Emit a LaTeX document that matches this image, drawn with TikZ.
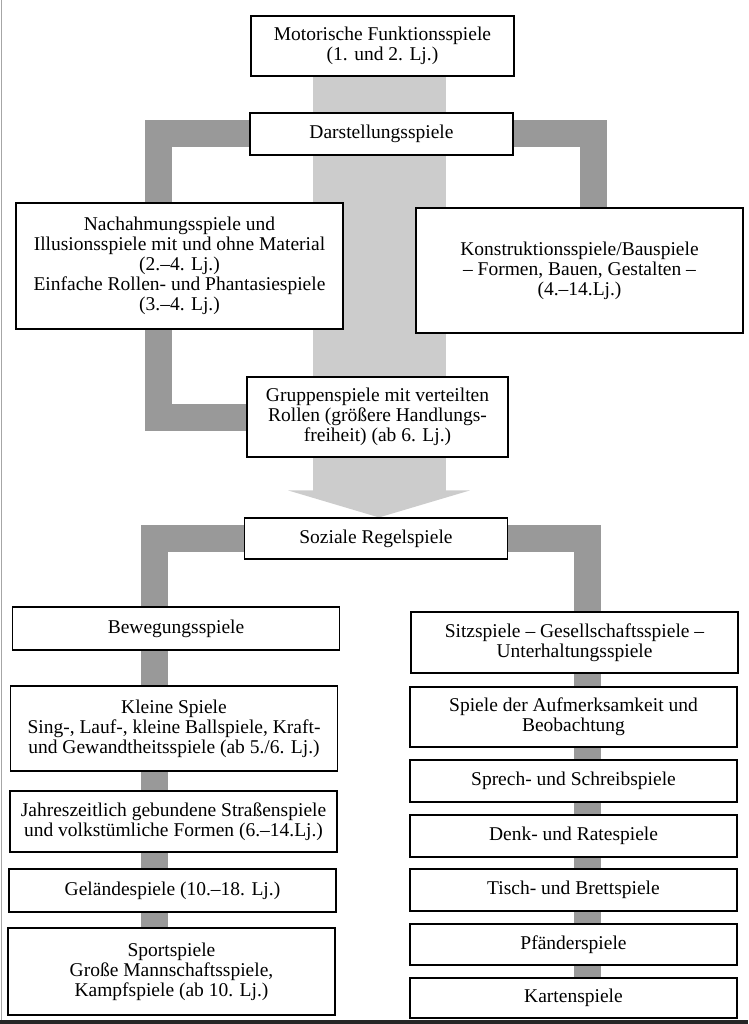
\documentclass[tikz,border=0pt]{standalone}
\usepackage{fontspec}
\setmainfont{Liberation Serif}
\usetikzlibrary{backgrounds,arrows.meta}

\definecolor{lightbar}{gray}{0.80}
\definecolor{darkbar}{gray}{0.60}

\tikzset{
  box/.style={draw, fill=white, line width=1.1pt, align=center, inner sep=0pt,
              font=\fontsize{19.5}{20}\selectfont},
  topbox/.style={box, minimum width=263pt},
  colbox/.style={box, minimum width=327pt},
  bar/.style={draw=darkbar, line width=27pt},
}

\begin{document}
\begin{tikzpicture}[x=1pt, y=-1pt]
  \useasboundingbox (0,0) rectangle (748,1024);

  % columns of the grey bars
  \coordinate (ax)  at (379,0);
  \coordinate (lx1) at (158.5,0);
  \coordinate (rx1) at (593.5,0);
  \coordinate (lx2) at (154,0);
  \coordinate (rx2) at (587,0);

  % upper part
  \node[topbox, minimum height=60pt] (mot) at (382.5,46)
       {Motorische Funktionsspiele\\(1. und 2. Lj.)};
  \node[topbox, minimum height=42pt] (dar) at (381.5,134) {Darstellungsspiele};
  \node[colbox, minimum height=126pt] (nach) at (179.5,266)
       {Nachahmungsspiele und\\Illusionsspiele mit und ohne Material\\(2.--4. Lj.)\\Einfache Rollen- und Phantasiespiele\\(3.--4. Lj.)};
  \node[colbox, minimum height=125pt] (kon) at (579.5,270.5)
       {Konstruktionsspiele/Bauspiele\\-- Formen, Bauen, Gestalten --\\(4.--14.Lj.)};
  \node[box, minimum width=261pt, minimum height=80pt] (grp) at (377.5,417)
       {Gruppenspiele mit verteilten\\Rollen (größere Handlungs-\\freiheit) (ab 6. Lj.)};

  % lower part
  \node[topbox, minimum height=41pt] (soz) at (376,538.5) {Soziale Regelspiele};
  \node[colbox, minimum height=43pt] (bew) at (176,628.5) {Bewegungsspiele};
  \node[colbox, minimum height=61pt] (sitz) at (574.5,642.5)
       {Sitzspiele -- Gesellschaftsspiele --\\Unterhaltungsspiele};

  \node[colbox, minimum height=85pt] (klein) at (174,728.5)
       {Kleine Spiele\\Sing-, Lauf-, kleine Ballspiele, Kraft-\\und Gewandtheitsspiele (ab 5./6. Lj.)};
  \node[colbox, minimum height=61pt] (jahr) at (173.5,821.5)
       {Jahreszeitlich gebundene Straßenspiele\\und volkstümliche Formen (6.--14.Lj.)};
  \node[colbox, minimum height=43pt] (gel) at (172.5,890.5) {Geländespiele (10.--18. Lj.)};
  \node[colbox, minimum height=87pt] (sport) at (171.5,971.5)
       {Sportspiele\\Große Mannschaftsspiele,\\Kampfspiele (ab 10. Lj.)};

  \node[colbox, minimum height=60pt] (auf) at (573.5,717)
       {Spiele der Aufmerksamkeit und\\Beobachtung};
  \node[colbox, minimum height=42pt] (spr) at (573.5,781) {Sprech- und Schreibspiele};
  \node[colbox, minimum height=42pt] (denk) at (573.5,836) {Denk- und Ratespiele};
  \node[colbox, minimum height=42pt] (tisch) at (573.5,890) {Tisch- und Brettspiele};
  \node[colbox, minimum height=41pt] (pfa) at (573.5,944.5) {Pfänderspiele};
  \node[colbox, minimum height=40pt] (kart) at (573.5,998) {Kartenspiele};

  \begin{pgfonlayer}{background}
    % broad arrow down the middle
    \draw[lightbar, line width=133pt, -{Triangle[width=181pt, length=27pt]}]
         (mot.south -| ax) -- (soz.north -| ax);
    % brackets
    \draw[bar] (nach.north -| lx1) |- (dar.west);
    \draw[bar] (dar.east) -| (kon.north -| rx1);
    \draw[bar] (nach.south -| lx1) |- (grp.west);
    \draw[bar] (bew.north -| lx2) |- (soz.west);
    \draw[bar] (soz.east) -| (sitz.north -| rx2);
    \foreach \a/\b in {bew/klein, klein/jahr, jahr/gel, gel/sport}
      \draw[bar] (\a.south -| lx2) -- (\b.north -| lx2);
    \foreach \a/\b in {sitz/auf, auf/spr, spr/denk, denk/tisch, tisch/pfa, pfa/kart}
      \draw[bar] (\a.south -| rx2) -- (\b.north -| rx2);
  \end{pgfonlayer}

  % edges of the scanned page
  \draw[gray!70, line width=1.2pt] (1.5,0) -- (1.5,1020);
  \draw[black!85, line width=3.5pt] (0,1022.2) -- (748,1022.2);
\end{tikzpicture}
\end{document}
